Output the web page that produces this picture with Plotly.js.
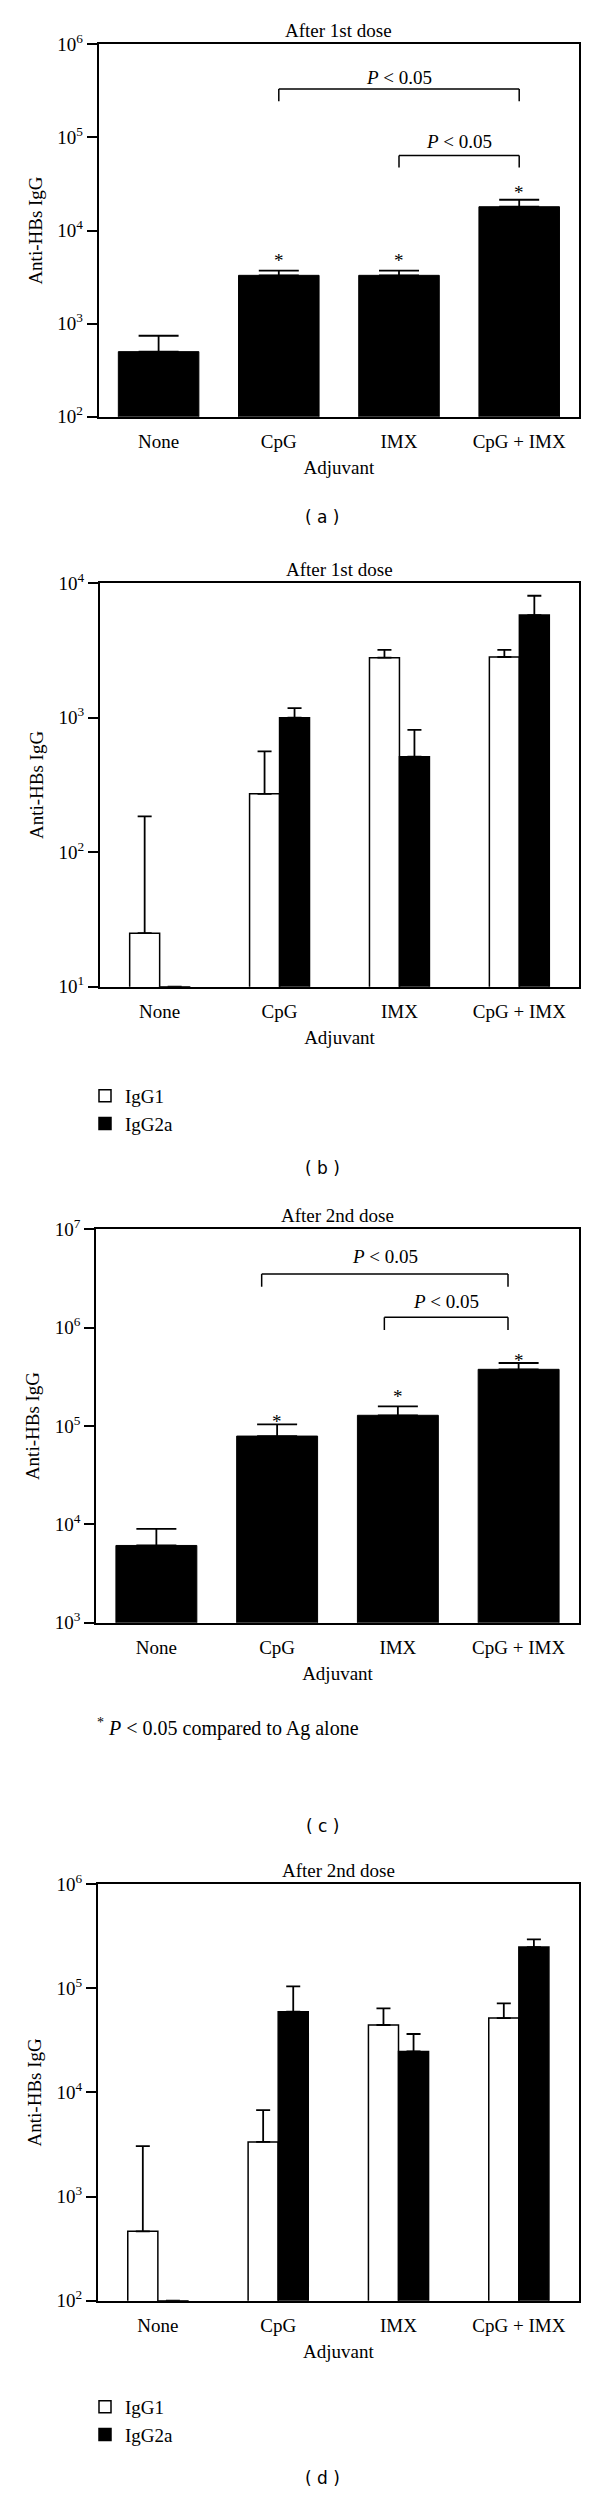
<!DOCTYPE html>
<html><head><meta charset="utf-8">
<script src="https://cdn.plot.ly/plotly-3.0.1.min.js"></script>
<style>html,body{margin:0;padding:0;background:#fff}#chart{width:600px;height:2494px}</style>
</head><body><div id="chart"></div>
<script>
// ---------------- data ----------------
const categories = ['None', 'CpG', 'IMX', 'CpG + IMX'];
const catIndex = [0, 1, 2, 3];
const zeros = [0, 0, 0, 0];

// (a) After 1st dose, total anti-HBs IgG
const aValues = [500, 3300, 3300, 18000];
const aErrPlus = [240, 400, 400, 3400];
// (b) After 1st dose, subclasses
const bIgG1 = [25, 272, 2800, 2830];
const bIgG1Err = [160, 290, 400, 370];
const bIgG2a = [10, 1000, 513, 5800];
const bIgG2aErr = [0, 180, 300, 2280];
// (c) After 2nd dose, total anti-HBs IgG
const cValues = [6100, 79000, 128500, 377000];
const cErrPlus = [2900, 25000, 30000, 60000];
// (d) After 2nd dose, subclasses
const dIgG1 = [463, 3340, 44300, 51600];
const dIgG1Err = [2590, 3420, 19700, 19900];
const dIgG2a = [100, 59400, 24700, 248000];
const dIgG2aErr = [0, 44600, 11600, 46000];

// y tick values / labels
const aTickVals = [1e2, 1e3, 1e4, 1e5, 1e6];
const aTickText = ['10<sup>2</sup>', '10<sup>3</sup>', '10<sup>4</sup>', '10<sup>5</sup>', '10<sup>6</sup>'];
const bTickVals = [1e1, 1e2, 1e3, 1e4];
const bTickText = ['10<sup>1</sup>', '10<sup>2</sup>', '10<sup>3</sup>', '10<sup>4</sup>'];
const cTickVals = [1e3, 1e4, 1e5, 1e6, 1e7];
const cTickText = ['10<sup>3</sup>', '10<sup>4</sup>', '10<sup>5</sup>', '10<sup>6</sup>', '10<sup>7</sup>'];
const dTickVals = [1e2, 1e3, 1e4, 1e5, 1e6];
const dTickText = ['10<sup>2</sup>', '10<sup>3</sup>', '10<sup>4</sup>', '10<sup>5</sup>', '10<sup>6</sup>'];

const seriesNames = ['IgG1', 'IgG2a'];
const titles = ['After 1st dose', 'After 1st dose', 'After 2nd dose', 'After 2nd dose'];
const panelLabels = ['( a )', '( b )', '( c )', '( d )'];
const pText = '<i>P</i> &lt; 0.05';
const footnote = '<sup>*</sup> <i>P</i> &lt; 0.05 compared to Ag alone';

// ---------------- layout helpers ----------------
const W = 600, H = 2494;
const SERIF = 'Liberation Serif';
const INK = '#000000';
const fx = v => v / W;
const fy = v => 1 - v / H;

// plot boxes in pixels: [left, right, top, bottom]
const boxes = [
  [98.5, 579.3, 44.3, 416.7],
  [99.7, 579.3, 583.3, 986.7],
  [96, 579, 1229.3, 1622.7],
  [97.7, 579, 1884, 2300.7]
];
const yRanges = [[2, 6], [1, 4], [3, 7], [2, 6]];
const tickSets = [[aTickVals, aTickText], [bTickVals, bTickText], [cTickVals, cTickText], [dTickVals, dTickText]];

function errBar(arr, w) {
  return {type: 'data', symmetric: false, array: arr, arrayminus: zeros,
          color: INK, thickness: 1.8, width: w, visible: true};
}

const traces = [];
function totalBar(vals, errs, i) {
  const s = i === 1 ? '' : String(i);
  traces.push({type: 'bar', x: catIndex, y: vals, xaxis: 'x' + s, yaxis: 'y' + s,
    width: 0.67, offset: -0.335,
    marker: {color: '#000', line: {color: '#000', width: 1}},
    error_y: errBar(errs, 20), showlegend: false, hoverinfo: 'skip'});
}
function subBars(v1, e1, v2, e2, i, legendId) {
  const s = i === 1 ? '' : String(i);
  traces.push({type: 'bar', name: seriesNames[0], x: catIndex, y: v1, xaxis: 'x' + s, yaxis: 'y' + s,
    width: 0.25, offset: -0.25,
    marker: {color: '#fff', line: {color: INK, width: 1.5}},
    error_y: errBar(e1, 7), legend: legendId, showlegend: true, hoverinfo: 'skip'});
  traces.push({type: 'bar', name: seriesNames[1], x: catIndex, y: v2, xaxis: 'x' + s, yaxis: 'y' + s,
    width: 0.25, offset: 0,
    marker: {color: '#000', line: {color: INK, width: 1.5}},
    error_y: errBar(e2, 7), legend: legendId, showlegend: true, hoverinfo: 'skip'});
}
totalBar(aValues, aErrPlus, 1);
subBars(bIgG1, bIgG1Err, bIgG2a, bIgG2aErr, 2, 'legend');
totalBar(cValues, cErrPlus, 3);
subBars(dIgG1, dIgG1Err, dIgG2a, dIgG2aErr, 4, 'legend2');

const layout = {
  width: W, height: H,
  margin: {l: 0, r: 0, t: 0, b: 0},
  paper_bgcolor: '#fff', plot_bgcolor: '#fff',
  barmode: 'overlay',
  font: {family: SERIF, size: 19, color: INK},
  shapes: [], annotations: [],
  legend: {x: fx(85), y: fy(1077), xanchor: 'left', yanchor: 'top', bgcolor: 'rgba(0,0,0,0)',
           font: {family: SERIF, size: 19, color: INK}, tracegroupgap: 0, itemwidth: 30},
  legend2: {x: fx(85), y: fy(2388), xanchor: 'left', yanchor: 'top', bgcolor: 'rgba(0,0,0,0)',
           font: {family: SERIF, size: 19, color: INK}, tracegroupgap: 0, itemwidth: 30}
};

boxes.forEach((b, k) => {
  const i = k + 1, s = i === 1 ? '' : String(i);
  layout['xaxis' + s] = {
    domain: [fx(b[0]), fx(b[1])], anchor: 'y' + s,
    range: [-0.5, 3.5], tickmode: 'array', tickvals: catIndex, ticktext: categories,
    ticks: '', ticklabelstandoff: 7, showline: true, mirror: true, linecolor: INK, linewidth: 1.5,
    showgrid: false, zeroline: false, tickfont: {family: SERIF, size: 19, color: INK},
    title: {text: 'Adjuvant', font: {family: SERIF, size: 19, color: INK}, standoff: 9},
    fixedrange: true
  };
  layout['yaxis' + s] = {
    domain: [fy(b[3]), fy(b[2])], anchor: 'x' + s, type: 'log', range: yRanges[k],
    tickmode: 'array', tickvals: tickSets[k][0], ticktext: tickSets[k][1],
    ticks: 'outside', ticklen: 10, tickwidth: 1.5, tickcolor: INK,
    showline: true, mirror: true, linecolor: INK, linewidth: 1.5,
    showgrid: false, zeroline: false, tickfont: {family: SERIF, size: 19, color: INK},
    title: {text: 'Anti-HBs IgG', font: {family: SERIF, size: 19, color: INK}, standoff: 10},
    fixedrange: true
  };
  // panel title
  layout.annotations.push({text: titles[k], xref: 'x' + s + ' domain', x: 0.5, yref: 'paper',
    y: fy(b[2] - 14), showarrow: false, xanchor: 'center', yanchor: 'middle',
    font: {family: SERIF, size: 19, color: INK}});
});

// panel letters
[517, 1167.7, 1826, 2478.3].forEach((yy, k) => {
  layout.annotations.push({text: panelLabels[k], xref: 'paper', yref: 'paper', x: fx(322.7), y: fy(yy),
    showarrow: false, xanchor: 'center', yanchor: 'middle',
    font: {family: 'DejaVu Sans', size: 17, color: INK}});
});

// significance brackets: x in category units, y given as log10 value, placed via the y domain
function logFrac(k, L) { const r = yRanges[k]; return (L - r[0]) / (r[1] - r[0]); }
function bracket(k, x0, x1, yTop, yBot) {
  const s = k === 0 ? '' : String(k + 1);
  const line = {color: INK, width: 1.5};
  const xr = 'x' + s, yr = 'y' + s + ' domain';
  const t = logFrac(k, yTop), b = logFrac(k, yBot);
  layout.shapes.push({type: 'line', xref: xr, yref: yr, x0: x0, x1: x1, y0: t, y1: t, line: line});
  layout.shapes.push({type: 'line', xref: xr, yref: yr, x0: x0, x1: x0, y0: t, y1: b, line: line});
  layout.shapes.push({type: 'line', xref: xr, yref: yr, x0: x1, x1: x1, y0: t, y1: b, line: line});
}
function note(k, x, y, text) {
  const s = k === 0 ? '' : String(k + 1);
  layout.annotations.push({text: text, xref: 'x' + s, yref: 'y' + s + ' domain', x: x, y: logFrac(k, y),
    showarrow: false, xanchor: 'center', yanchor: 'middle', font: {family: SERIF, size: 19, color: INK}});
}
// panel (a)
bracket(0, 1, 3, 5.520, 5.387);
bracket(0, 2, 3, 4.806, 4.677);
note(0, 2, 5.645, pText);
note(0, 2.5, 4.954, pText);
note(0, 1, 3.68, '*');
note(0, 2, 3.68, '*');
note(0, 3, 4.41, '*');
// panel (c)
bracket(2, 0.872, 2.912, 6.545, 6.416);
bracket(2, 1.888, 2.912, 6.105, 5.976);
note(2, 1.892, 6.721, pText);
note(2, 2.40, 6.264, pText);
note(2, 1, 5.044, '*');
note(2, 2, 5.298, '*');
note(2, 3, 5.664, '*');
// footnote under (c)
layout.annotations.push({text: footnote, xref: 'paper', yref: 'paper', x: fx(95), y: fy(1727.7),
  showarrow: false, xanchor: 'left', yanchor: 'middle', font: {family: SERIF, size: 20, color: INK}});

Plotly.newPlot('chart', traces, layout, {displayModeBar: false});
</script>
</body></html>
